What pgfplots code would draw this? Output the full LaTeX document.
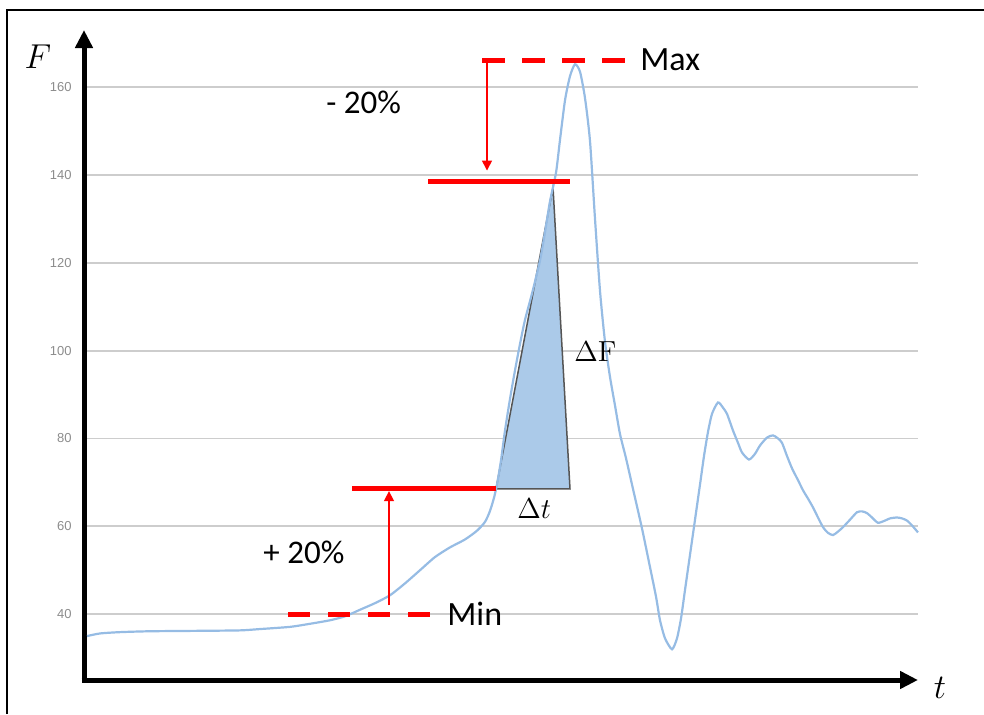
\documentclass[border=0pt]{standalone}
\usepackage{pgfplots}
\pgfplotsset{compat=1.18}
\usepackage{fontspec}
\usetikzlibrary{arrows.meta}
\newfontfamily\calibri{Carlito}
\newfontfamily\arial{Liberation Sans}
\definecolor{curveblue}{RGB}{150,188,228}
\definecolor{trifill}{RGB}{171,202,233}
\definecolor{gridgray}{RGB}{205,205,205}
\definecolor{tickgray}{RGB}{140,140,140}
\definecolor{tridraw}{RGB}{85,85,85}
\begin{document}
\begin{tikzpicture}
\useasboundingbox (0pt,0pt) rectangle (492pt,357pt);
\begin{axis}[
  at={(42pt,17pt)}, anchor=south west,
  scale only axis, width=417pt, height=325pt,
  xmin=84, xmax=918, ymin=25, ymax=173,
  clip=false,
  axis lines=left,
  axis line style={line width=2.5pt, shorten <=-1.25pt, -{Triangle[length=9pt,width=8.5pt]}},
  xtick=\empty,
  ytick={40,60,...,160},
  major tick length=0pt,
  ymajorgrids,
  grid style={gridgray, line width=0.9pt},
  /pgf/number format/assume math mode=true,
  yticklabel style={font=\fontsize{6.5}{7}\arial, text=tickgray, anchor=east, inner sep=0pt, xshift=-6pt},
  no markers,
]
\addplot[fill=trifill, draw=tridraw, line width=0.75pt] coordinates {(496,68.5) (570,68.5) (553,137.2) (496,68.5)};
\addplot[curveblue, line width=1.1pt, smooth, tension=0.4] coordinates {
(87,35.0) (100,35.6) (120,35.9) (150,36.1) (200,36.2) (240,36.3) (260,36.6) (290,37.1)
(310,37.8) (330,38.6) (345,39.5) (360,41.0) (375,42.5) (390,44.3) (405,47.0) (420,50.0)
(435,53.0) (450,55.2) (465,57.0) (477,59.0) (485,61.0) (490,63.5) (494,66.5) (497,69.5)
(501,75) (505,81.8) (510,89) (515,95.5) (520,101.5) (525,107) (532,113) (540,120.5)
(545,127) (550,134) (556,140.5) (560,148) (565,157) (570,162.5) (575,165.2) (580,163.5)
(585,157.5) (590,147.7) (595,130) (600,113.6) (605,102) (610,94) (615,87.5) (620,81)
(626,75.5) (633,68.5) (642,59.5) (650,50.7) (656,44) (660,38.6) (665,34.5) (672,32.0)
(677,34.5) (681,39) (685,45.5) (690,53.5) (695,61.5) (700,69.5) (704,76) (708,81.5)
(712,85.6) (718,88.2) (723,87) (727,85.6) (733,81.8) (738,79) (742,76.8)
(749,75.2) (755,76.5) (760,78.4) (767,80.2) (773,80.7) (778,80) (782,79) (787,76)
(792,73.2) (798,70.5) (803,68.2) (808,66.3) (813,64.3) (818,62) (823,59.8) (828,58.5)
(833,58.0) (838,58.8) (843,59.8) (850,61.5) (857,63.2) (862,63.4) (867,63) (872,62)
(878,60.8) (885,61.3) (890,61.8) (897,62.0) (902,61.8) (907,61.3) (912,60.2) (918,58.6)
};
% red annotations
\addplot[red, line width=2.5pt, dash pattern=on 11.5pt off 8.5pt] coordinates {(482,166.1) (625,166.1)};
\addplot[red, line width=2.5pt, dash pattern=on 11pt off 9pt] coordinates {(288,40.0) (430,40.0)};
\addplot[red, line width=2.5pt] coordinates {(428,138.4) (570,138.4)};
\addplot[red, line width=2.5pt] coordinates {(352,68.5) (496,68.5)};
\addplot[red, line width=0.75pt, -{Triangle[length=5pt,width=5pt]}] coordinates {(487,165.5) (487,141.0)};
\addplot[red, line width=0.75pt, -{Triangle[length=5pt,width=5pt]}] coordinates {(389,42.0) (389,68.0)};
\end{axis}
\begin{scope}[x=0.5pt,y=-0.5pt,shift={(0pt,357pt)}]
\draw[line width=1pt] (6.5,714) -- (6.5,10.5) -- (984,10.5);
\node[anchor=center, inner sep=0pt] at (38,57) {\fontsize{17.5}{18}\selectfont $F$};
\node[anchor=center, inner sep=0pt] at (940,688) {\fontsize{17.5}{18}\selectfont $t$};
\node[anchor=west, inner sep=0pt] at (640,60) {\fontsize{17}{18}\calibri Max};
\node[anchor=west, inner sep=0pt] at (326,102) {\fontsize{16.5}{18}\calibri - 20\%};
\node[anchor=west, inner sep=0pt] at (263,552) {\fontsize{16.5}{18}\calibri + 20\%};
\node[anchor=west, inner sep=0pt] at (447,614) {\fontsize{17}{18}\calibri Min};
\node[anchor=west, inner sep=0pt] at (574,352) {\fontsize{14.5}{16}\selectfont $\Delta\mathrm{F}$};
\node[anchor=west, inner sep=0pt] at (517,509) {\fontsize{14.5}{16}\selectfont $\Delta t$};
\end{scope}
\end{tikzpicture}
\end{document}
